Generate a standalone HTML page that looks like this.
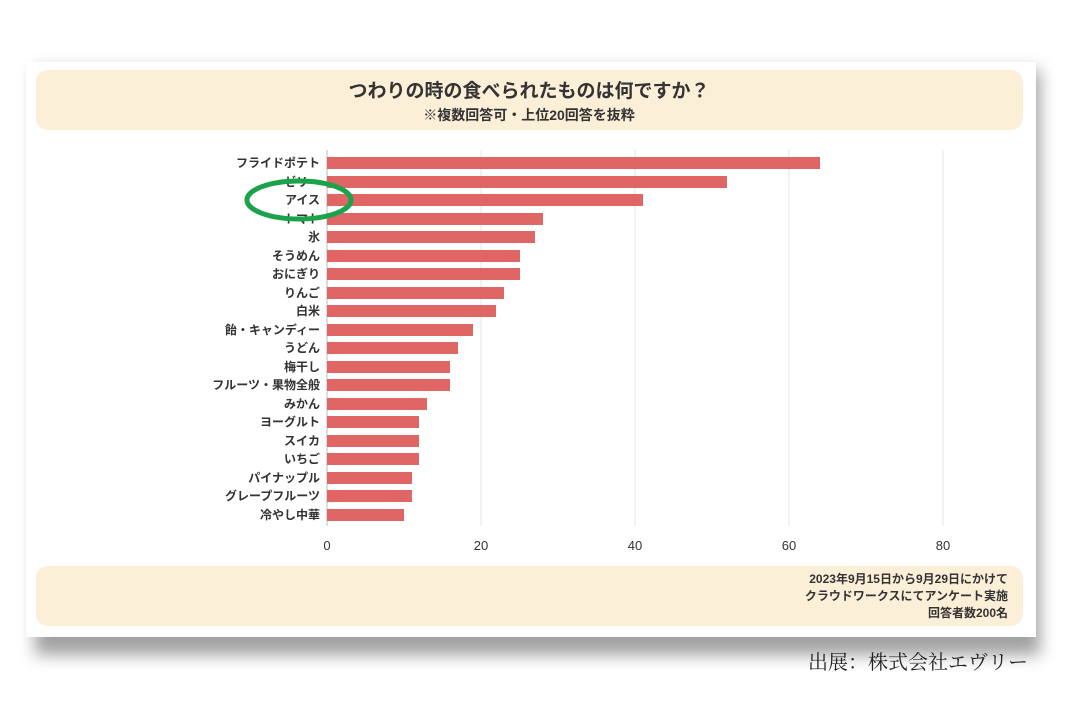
<!DOCTYPE html>
<html><head><meta charset="utf-8"><style>
body{margin:0;width:1080px;height:720px;background:#fff;overflow:hidden;font-family:"Liberation Sans","Noto Sans CJK JP",sans-serif}
</style></head><body>
<svg width="1080" height="720" xmlns="http://www.w3.org/2000/svg" style="position:absolute;left:0;top:0">
<defs><filter id="sh" x="-10%" y="-10%" width="130%" height="130%"><feGaussianBlur stdDeviation="8"/></filter></defs>
<rect x="35" y="70" width="1005" height="585" fill="#555" opacity="0.55" filter="url(#sh)"/>
<rect x="26" y="62" width="1010" height="575" fill="#fff"/>
<rect x="36" y="70" width="987" height="60" rx="12" fill="#fcefd8"/>
<rect x="36" y="566" width="987" height="60" rx="12" fill="#fcefd8"/>
<g font-family="Liberation Sans, Noto Sans CJK JP, sans-serif" font-weight="bold" fill="#333" text-anchor="middle">
<text x="529" y="97" font-size="19">つわりの時の食べられたものは何ですか？</text>
<text x="529" y="120" font-size="14">※複数回答可・上位20回答を抜粋</text>
</g>
<g stroke="#e6e6e6" stroke-width="1">
<line x1="481" y1="150" x2="481" y2="526"/><line x1="635" y1="150" x2="635" y2="526"/><line x1="789" y1="150" x2="789" y2="526"/><line x1="943" y1="150" x2="943" y2="526"/>
</g>
<line x1="327" y1="150" x2="327" y2="526" stroke="#bbb"/>
<g fill="#e06666">
<rect x="327" y="157" width="493" height="12"/>
<rect x="327" y="176" width="400" height="12"/>
<rect x="327" y="194" width="316" height="12"/>
<rect x="327" y="213" width="216" height="12"/>
<rect x="327" y="231" width="208" height="12"/>
<rect x="327" y="250" width="193" height="12"/>
<rect x="327" y="268" width="193" height="12"/>
<rect x="327" y="287" width="177" height="12"/>
<rect x="327" y="305" width="169" height="12"/>
<rect x="327" y="324" width="146" height="12"/>
<rect x="327" y="342" width="131" height="12"/>
<rect x="327" y="361" width="123" height="12"/>
<rect x="327" y="379" width="123" height="12"/>
<rect x="327" y="398" width="100" height="12"/>
<rect x="327" y="416" width="92" height="12"/>
<rect x="327" y="435" width="92" height="12"/>
<rect x="327" y="453" width="92" height="12"/>
<rect x="327" y="472" width="85" height="12"/>
<rect x="327" y="490" width="85" height="12"/>
<rect x="327" y="509" width="77" height="12"/>
</g>
<g font-family="Liberation Sans, Noto Sans CJK JP, sans-serif" font-weight="bold" fill="#333" font-size="12" text-anchor="end">
<text x="320" y="167">フライドポテト</text>
<text x="320" y="186">ゼリー</text>
<text x="320" y="204">アイス</text>
<text x="320" y="223">トマト</text>
<text x="320" y="241">氷</text>
<text x="320" y="260">そうめん</text>
<text x="320" y="278">おにぎり</text>
<text x="320" y="297">りんご</text>
<text x="320" y="315">白米</text>
<text x="320" y="334">飴・キャンディー</text>
<text x="320" y="352">うどん</text>
<text x="320" y="371">梅干し</text>
<text x="320" y="389">フルーツ・果物全般</text>
<text x="320" y="408">みかん</text>
<text x="320" y="426">ヨーグルト</text>
<text x="320" y="445">スイカ</text>
<text x="320" y="463">いちご</text>
<text x="320" y="482">パイナップル</text>
<text x="320" y="500">グレープフルーツ</text>
<text x="320" y="519">冷やし中華</text>
</g>
<g font-family="Liberation Sans, sans-serif" fill="#333" font-size="13" text-anchor="middle">
<text x="327" y="550">0</text><text x="481" y="550">20</text><text x="635" y="550">40</text><text x="789" y="550">60</text><text x="943" y="550">80</text>
</g>
<g font-family="Liberation Sans, Noto Sans CJK JP, sans-serif" font-weight="bold" fill="#333" font-size="12" text-anchor="end">
<text x="1008" y="583">2023年9月15日から9月29日にかけて</text>
<text x="1008" y="600">クラウドワークスにてアンケート実施</text>
<text x="1008" y="617">回答者数200名</text>
</g>
<ellipse cx="299" cy="200" rx="52" ry="19" fill="none" stroke="#1aa34a" stroke-width="5"/>
<text x="1028" y="669" text-anchor="end" font-family="Liberation Serif, Noto Serif CJK SC, serif" font-size="20" fill="#222">出展：株式会社エヴリー</text>
</svg>
</body></html>
